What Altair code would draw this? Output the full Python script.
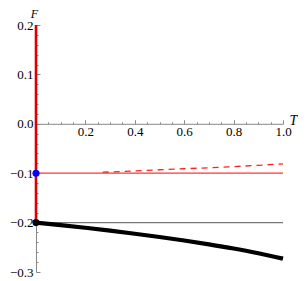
import altair as alt
import pandas as pd

# data
T_curve = [0.0, 0.1, 0.2, 0.3, 0.4, 0.5, 0.6, 0.7, 0.8, 0.9, 1.0]
F_curve = [-0.2, -0.205, -0.2105, -0.2163, -0.2225, -0.2291, -0.2362, -0.244, -0.2525, -0.262, -0.273]
T_dash = [0.27, 0.4, 0.5, 0.6, 0.7, 0.8, 0.9, 1.0]
F_dash = [-0.098, -0.0955, -0.093, -0.091, -0.089, -0.0866, -0.084, -0.081]
H_red = -0.1
H_gray = -0.2
V_red = [-0.2, 0.2]
pts_T = [0.0, 0.0]
pts_F = [-0.1, -0.2]
pts_color = ["#0000ff", "#000000"]
x_labels = [0.2, 0.4, 0.6, 0.8, 1.0]
y_labels = [-0.3, -0.2, -0.1, 0.0, 0.1, 0.2]
x_ticks = [round(0.05 * i, 2) for i in range(1, 21)]
y_ticks = [round(-0.3 + 0.02 * i, 2) for i in range(0, 26)]

W, H = 247, 247
y_zero_px = H * 0.2 / 0.5

xs = alt.Scale(domain=[0, 1], nice=False, zero=False)
ys = alt.Scale(domain=[-0.3, 0.2], nice=False, zero=False)
FONT = "Liberation Serif"

axis_x_main = alt.Axis(orient="bottom", offset=-(H - y_zero_px), values=x_labels, format=".1f",
                       ticks=False, domainColor="#888888", domainWidth=1, labelFont=FONT,
                       labelFontSize=13, labelColor="black", labelPadding=2, grid=False,
                       title="T", titleFont=FONT, titleFontStyle="italic", titleFontWeight="normal",
                       titleFontSize=14, titleX=257, titleY=-3, titleAlign="center",
                       titleBaseline="middle", labelFlush=False)
axis_y_main = alt.Axis(orient="left", values=y_labels, format=".1f", ticks=False,
                       domainColor="#888888", domainWidth=1, labelFont=FONT, labelFontSize=13,
                       labelColor="black", labelPadding=3, grid=False, title="F", titleFont=FONT,
                       titleFontStyle="italic", titleFontWeight="normal", titleFontSize=12,
                       titleAngle=0, titleX=-2, titleY=-17, titleAlign="center",
                       titleBaseline="top", labelFlush=False)
axis_x_ticks = alt.Axis(orient="top", offset=-y_zero_px, values=x_ticks, labels=False, domain=False,
                        grid=False, title=None, tickColor="#888888", tickWidth=1,
                        tickSize={"condition": {"test": "abs(datum.value*5 - round(datum.value*5)) < 0.001", "value": 4}, "value": 2})
axis_y_ticks = alt.Axis(orient="right", offset=-W, values=y_ticks, labels=False, domain=False,
                        grid=False, title=None, tickColor="#888888", tickWidth=1,
                        tickSize={"condition": {"test": "abs(datum.value*10 - round(datum.value*10)) < 0.001", "value": 4}, "value": 2})

hlines = pd.DataFrame({"T0": [0.0, 0.0], "T1": [1.0, 1.0], "F": [H_red, H_gray],
                       "c": ["red", "gray"]})

l_red = alt.Chart(hlines[hlines.c == "red"]).mark_rule(color="#ff3333", strokeWidth=1.2).encode(
    x=alt.X("T0:Q", scale=xs, axis=axis_x_main), x2="T1:Q",
    y=alt.Y("F:Q", scale=ys, axis=axis_y_main))
l_gray = alt.Chart(hlines[hlines.c == "gray"]).mark_rule(color="#777777", strokeWidth=1.2).encode(
    x=alt.X("T0:Q", scale=xs, axis=axis_x_ticks), x2="T1:Q",
    y=alt.Y("F:Q", scale=ys, axis=axis_y_ticks))

vdf = pd.DataFrame({"T": [0.0], "F0": [V_red[0]], "F1": [V_red[1]]})
l_v = alt.Chart(vdf).mark_rule(color="#dd0000", strokeWidth=2.6).encode(
    x=alt.X("T:Q", scale=xs, axis=None), y=alt.Y("F0:Q", scale=ys, axis=None), y2="F1:Q")

cdf = pd.DataFrame({"T": T_curve, "F": F_curve})
l_curve = alt.Chart(cdf).mark_line(color="black", strokeWidth=4.2, interpolate="monotone").encode(
    x=alt.X("T:Q", scale=xs, axis=None), y=alt.Y("F:Q", scale=ys, axis=None))

ddf = pd.DataFrame({"T": T_dash, "F": F_dash})
l_dash = alt.Chart(ddf).mark_line(color="#ff2222", strokeWidth=1.3, strokeDash=[6, 5],
                                  interpolate="monotone").encode(
    x=alt.X("T:Q", scale=xs, axis=None), y=alt.Y("F:Q", scale=ys, axis=None))

pdf = pd.DataFrame({"T": pts_T, "F": pts_F, "c": pts_color})
l_pts = alt.Chart(pdf).mark_circle(size=50, opacity=1).encode(
    x=alt.X("T:Q", scale=xs, axis=None), y=alt.Y("F:Q", scale=ys, axis=None),
    color=alt.Color("c:N", scale=None))

chart = alt.layer(l_red, l_gray, l_dash, l_v, l_curve, l_pts).resolve_axis(
    x="independent", y="independent"
).properties(
    width=W, height=H,
    autosize=alt.AutoSizeParams(type="none"),
    padding={"left": 28, "top": 17, "right": 15, "bottom": 9},
).configure_view(stroke=None)

chart.save("out.html", embed_options={"renderer": "svg", "actions": False})
